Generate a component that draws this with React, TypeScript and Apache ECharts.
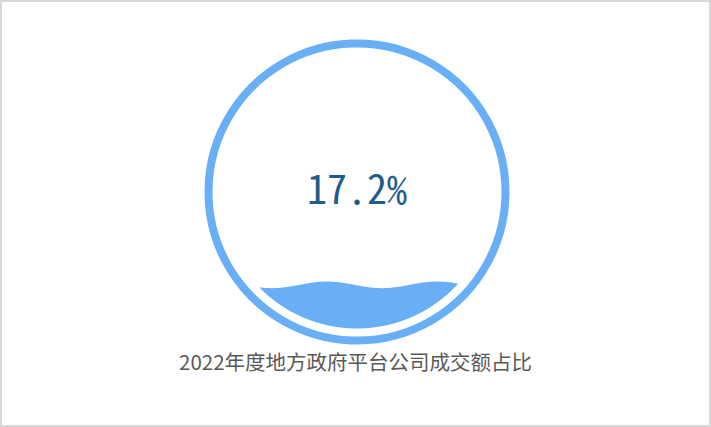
import * as echarts from 'echarts';
import { useEffect, useRef } from 'react';

// share of 2022 trading volume
const shares = [0.172];
const chartTitle = '2022年度地方政府平台公司成交额占比';

const waterColor = '#69aff5';

function LiquidChart() {
  const chartRef = useRef(null);

  useEffect(() => {
    const myChart = echarts.init(chartRef.current, null, { renderer: 'svg' });

    const cx = 357;
    const cy = 192;
    const innerR = 136.5;
    const ringR = 148.5;
    const amp = 3.3;
    const waveLen = 110;
    const crestX = 327;

    const renderItem = (params: any, api: any) => {
      const v = api.value(0);
      const level = cy + innerR - v * 2 * innerR;
      const wave = (x: number) =>
        level + amp * (1 - Math.cos((2 * Math.PI * (x - crestX)) / waveLen));

      const top: number[][] = [];
      const bottom: number[][] = [];
      for (let x = cx - innerR; x <= cx + innerR; x += 0.5) {
        const h = Math.sqrt(Math.max(innerR * innerR - (x - cx) * (x - cx), 0));
        const yb = cy + h;
        const yt = Math.max(wave(x), cy - h);
        if (yt < yb) {
          top.push([x, yt]);
          bottom.push([x, yb]);
        }
      }
      const points = top.concat(bottom.reverse());

      return {
        type: 'group',
        children: [
          {
            type: 'circle',
            shape: { cx, cy, r: ringR },
            style: { fill: 'none', stroke: waterColor, lineWidth: 8 },
          },
          {
            type: 'polygon',
            shape: { points },
            style: { fill: waterColor },
          },
          {
            type: 'text',
            x: cx,
            y: cy - 5,
            style: {
              text: (v * 100).toFixed(1) + '%',
              fontSize: 40,
              fontFamily: '"Noto Sans Mono CJK SC", "DejaVu Sans Mono", monospace',
              fill: '#1f5b8b',
              align: 'center',
              verticalAlign: 'middle',
            },
          },
        ],
      };
    };

    const option = {
      animation: false,
      title: {
        text: chartTitle,
        left: 'center',
        top: 351,
        padding: 0,
        textStyle: {
          color: '#595959',
          fontSize: 20.5,
          fontWeight: 'normal',
          fontFamily: '"Noto Sans CJK SC", sans-serif',
        },
      },
      graphic: [
        {
          type: 'rect',
          shape: { x: 1, y: 1, width: 709, height: 425 },
          style: { fill: 'none', stroke: '#d9d9d9', lineWidth: 2 },
          silent: true,
        },
      ],
      series: [
        {
          type: 'custom',
          coordinateSystem: 'none',
          renderItem,
          data: shares.map((s) => [s]),
        },
      ],
    };

    myChart.setOption(option);

    return () => {
      myChart.dispose();
    };
  }, []);

  return (
    <div
      ref={chartRef}
      style={{ position: 'absolute', left: 0, top: 0, width: '711px', height: '427px' }}
    ></div>
  );
}

export default function App() {
  return <LiquidChart />;
}
